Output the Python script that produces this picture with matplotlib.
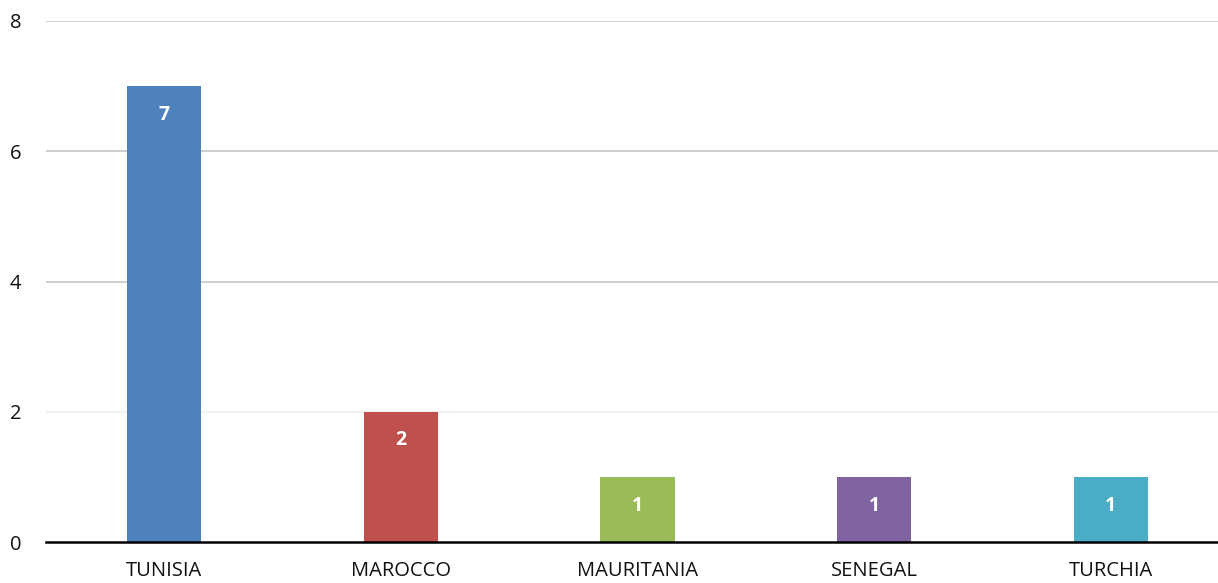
import matplotlib.pyplot as plt
import numpy as np

plt.rcParams['font.family'] = ['Open Sans', 'DejaVu Sans']

# data
countries = ["TUNISIA", "MAROCCO", "MAURITANIA", "SENEGAL", "TURCHIA"]
counts = [7, 2, 1, 1, 1]
colors = ["#4F81BD", "#C0504D", "#9BBB59", "#8064A2", "#4BACC6"]
y_ticks = [0, 2, 4, 6, 8]

fig = plt.figure(figsize=(12.18, 5.83), dpi=100)
ax = fig.add_axes([46 / 1218, 41 / 583, 1 - 46 / 1218, 521 / 583])

x = np.arange(len(countries))
bars = ax.bar(x, counts, width=0.313, color=colors, zorder=3)

for b, v in zip(bars, counts):
    ax.text(b.get_x() + b.get_width() / 2, v - 0.44, str(v), ha='center', va='center',
            color='white', fontsize=14, fontweight='bold', zorder=4)

ax.set_xlim(-0.5, 4.5 - 11 / 236.75)
ax.set_ylim(0, 8)
ax.set_yticks(y_ticks)
ax.set_xticks(x)
ax.set_xticklabels(countries)

# gridlines (the one at 2 is much fainter in the original)
for t in y_ticks[1:]:
    c = "#F2F2F2" if t == 2 else "#CFCFCF"
    ax.axhline(t, color=c, linewidth=1.4, zorder=1)

for s in ['top', 'right', 'left']:
    ax.spines[s].set_visible(False)
ax.spines['bottom'].set_linewidth(1.8)
ax.spines['bottom'].set_color('black')
ax.spines['bottom'].set_zorder(5)

ax.tick_params(axis='x', length=0, pad=14, labelsize=14.5, colors='#111111')
ax.tick_params(axis='y', length=0, pad=26, labelsize=14.5, colors='#111111')
for lbl in ax.get_yticklabels():
    lbl.set_horizontalalignment('left')

fig.savefig("out.png", dpi=100)
